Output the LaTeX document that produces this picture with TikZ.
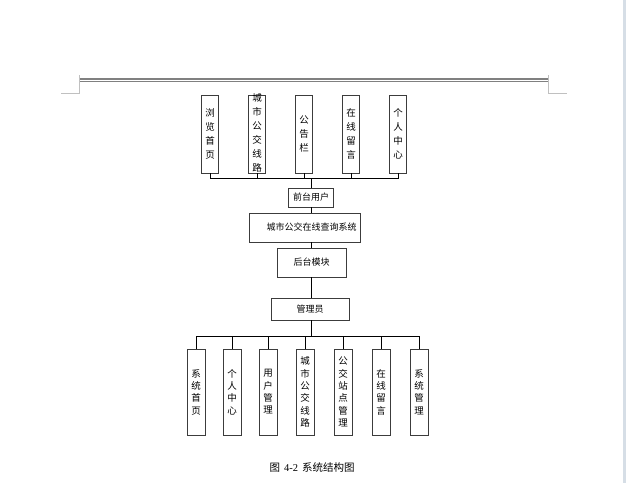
\documentclass[tikz,border=0pt]{standalone}
\usepackage{fontspec}
\newfontfamily\cjk{Noto Sans CJK SC}
\newfontfamily\capnum{Liberation Serif}
\definecolor{rulegray}{RGB}{128,128,128}
\definecolor{tickgray}{RGB}{192,192,192}
\definecolor{edgeband}{RGB}{214,222,230}
\definecolor{boxline}{RGB}{60,60,60}
\begin{document}
\begin{tikzpicture}[x=1pt,y=-1pt,
  box/.style={draw=boxline, line width=0.8pt, fill=white, inner sep=0pt,
    font=\cjk\fontsize{9}{10}\selectfont},
  topbox/.style={box, minimum width=17pt, minimum height=78pt},
  botbox/.style={box, minimum width=18pt, minimum height=86pt},
  toptext/.style={inner sep=0pt, align=center, font=\cjk\fontsize{9.5}{14}\selectfont},
  bottext/.style={inner sep=0pt, align=center, font=\cjk\fontsize{9.5}{12.3}\selectfont},
  link/.style={line width=0.8pt, draw=black}]
\useasboundingbox (0,0) rectangle (626,483);
\fill[white] (0,0) rectangle (626,483);
\fill[edgeband] (623,0) rectangle (626,483);
% page header rule and corner marks
\draw[rulegray, line width=2pt] (80,78.9) -- (548,78.9);
\draw[rulegray, line width=0.9pt] (80,81.3) -- (548,81.3);
\draw[tickgray, line width=0.8pt] (61,93) -- (79.5,93) -- (79.5,75);
\draw[tickgray, line width=0.8pt] (548.5,75) -- (548.5,93) -- (567,93);

% top row
\node[topbox] (t1) at (210,134) {};
\node[topbox] (t2) at (257,134) {};
\node[topbox] (t3) at (304,134) {};
\node[topbox] (t4) at (351,134) {};
\node[topbox] (t5) at (398,134) {};
\node[toptext] (t1t) at (t1.center) {浏\\览\\首\\页};
\node[toptext] (t2t) at (257,133) {城\\市\\公\\交\\线\\路};
\node[toptext] (t3t) at (t3.center) {公\\告\\栏};
\node[toptext] (t4t) at (t4.center) {在\\线\\留\\言};
\node[toptext] (t5t) at (t5.center) {个\\人\\中\\心};
\coordinate (hub1) at (311,178);
\draw[link] (t1.south) |- (t5.south |- hub1) -- (t5.south);
\foreach \n in {t2,t3,t4} \draw[link] (\n.south) -- (\n.south |- hub1);

% centre column
\node[box, minimum width=45pt, minimum height=19pt] (front) at (311,197.5) {前台用户};
\node[box, minimum width=111pt, minimum height=29pt] (sys) at (304.5,227.5) {\hspace*{14pt}城市公交在线查询系统};
\node[box, minimum width=69pt, minimum height=29pt] (back) at (311.5,262.5) {后台模块};
\node[box, minimum width=78pt, minimum height=22pt] (admin) at (310,309) {管理员};
\draw[link] (hub1) -- (front.north);
\draw[link] (front.south) -- (front.south |- sys.north);
\draw[link] (front.south |- sys.south) -- (front.south |- back.north);
\draw[link] (front.south |- back.south) -- (front.south |- admin.north);
\coordinate (hub2) at (311,336);
\draw[link] (front.south |- admin.south) -- (hub2);

% bottom row
\node[botbox] (b1) at (196,392) {};
\node[botbox] (b2) at (232,392) {};
\node[botbox] (b3) at (268,392) {};
\node[botbox] (b4) at (305,392) {};
\node[botbox] (b5) at (343,392) {};
\node[botbox] (b6) at (381,392) {};
\node[botbox] (b7) at (419,392) {};
\node[bottext] (b1t) at (b1.center) {系\\统\\首\\页};
\node[bottext] (b2t) at (b2.center) {个\\人\\中\\心};
\node[bottext] (b3t) at (b3.center) {用\\户\\管\\理};
\node[bottext] (b4t) at (b4.center) {城\\市\\公\\交\\线\\路};
\node[bottext] (b5t) at (b5.center) {公\\交\\站\\点\\管\\理};
\node[bottext] (b6t) at (b6.center) {在\\线\\留\\言};
\node[bottext] (b7t) at (b7.center) {系\\统\\管\\理};
\draw[link] (b1.north) |- (b7.north |- hub2) -- (b7.north);
\foreach \n in {b2,b3,b4,b5,b6} \draw[link] (\n.north) -- (\n.north |- hub2);

% caption
\node[inner sep=0pt, font=\fontsize{10.5}{12}\selectfont] (cap) at (312,467) {\cjk 图\hspace{4pt}\capnum 4-2\hspace{4pt}\cjk 系统结构图};
\end{tikzpicture}
\end{document}
